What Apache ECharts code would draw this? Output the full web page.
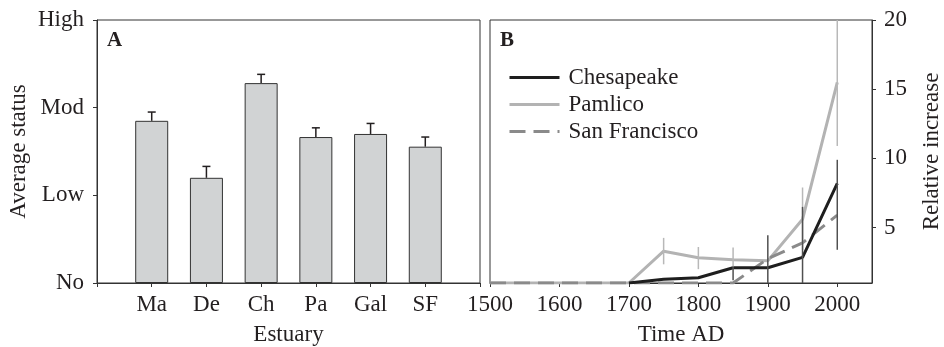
<!DOCTYPE html>
<html>
<head>
<meta charset="utf-8">
<script src="https://cdn.jsdelivr.net/npm/echarts@6/dist/echarts.min.js"></script>
<style>
  html, body { margin: 0; padding: 0; background: #fff; }
  #chart { width: 944px; height: 347px; }
</style>
</head>
<body>
<div id="chart"></div>
<script>
// panel A: average status per estuary
const estuaries = ['Ma', 'De', 'Ch', 'Pa', 'Gal', 'SF']
const statusMean = [1.85, 1.2, 2.28, 1.665, 1.7, 1.555]
const statusErrTop = [1.95, 1.33, 2.38, 1.77, 1.82, 1.665]
const statusLabels = ['No', 'Low', 'Mod', 'High']

// panel B: relative increase over time
const years = [1500, 1600, 1700, 1750, 1800, 1850, 1900, 1950, 2000]
const chesapeake = [null, null, 1, 1.27, 1.38, 2.1, 2.1, 2.85, 8.2]
const pamlico = [1, 1, 1, 3.3, 2.82, 2.68, 2.6, 5.6, 15.5]
const sanFrancisco = [1, 1, 1, 1, 1, 1, 2.75, 3.9, 5.9]
const yearTicks = [1500, 1600, 1700, 1800, 1900, 2000]
const increaseTicks = [5, 10, 15, 20]

// vertical error ranges in panel B
const lightErrYears = [1750, 1800, 1850, 1950, 2000]
const lightErrLow = [2.35, 2.0, 2.17, 3.4, 10.9]
const lightErrHigh = [4.26, 3.6, 3.57, 7.9, 20]
const darkErrYears = [1850, 1900, 1950, 2000]
const darkErrLow = [1.2, 1, 1, 3.4]
const darkErrHigh = [2.2, 4.45, 6.5, 9.9]

const FONT = 'Liberation Serif'
const INK = '#231f20'
const AXIS = '#333'

const chart = echarts.init(document.getElementById('chart'))

const xCats = [''].concat(estuaries, [' '])
const barData = [null].concat(statusMean, [null])
const errA = estuaries.map((e, i) => [i + 1, statusMean[i], statusErrTop[i]])

function errorBarA (params, api) {
  const base = api.coord([api.value(0), api.value(1)])
  const top = api.coord([api.value(0), api.value(2)])
  const style = { stroke: INK, lineWidth: 1.5 }
  return {
    type: 'group',
    children: [
      { type: 'line', shape: { x1: base[0], y1: base[1], x2: top[0], y2: top[1] }, style: style },
      { type: 'line', shape: { x1: top[0] - 4, y1: top[1], x2: top[0] + 4, y2: top[1] }, style: style }
    ]
  }
}

function rangeBar (color) {
  return function (params, api) {
    const lo = api.coord([api.value(0), api.value(1)])
    const hi = api.coord([api.value(0), api.value(2)])
    return {
      type: 'line',
      shape: { x1: lo[0], y1: lo[1], x2: hi[0], y2: hi[1] },
      style: { stroke: color, lineWidth: 1.5 }
    }
  }
}

const axisText = { fontFamily: FONT, fontSize: 23, color: INK }
const nameText = { fontFamily: FONT, fontSize: 23, color: INK }

const option = {
  animation: false,
  textStyle: { fontFamily: FONT },
  grid: [
    { left: 97, top: 20, width: 383, height: 263, show: true, borderColor: AXIS, borderWidth: 1, outerBoundsMode: 'none' },
    { left: 490, top: 20, width: 382, height: 263, show: true, borderColor: AXIS, borderWidth: 1, outerBoundsMode: 'none' }
  ],
  xAxis: [
    {
      gridIndex: 0,
      type: 'category',
      data: xCats,
      boundaryGap: false,
      name: 'Estuary',
      nameLocation: 'middle',
      nameGap: 40,
      nameTextStyle: nameText,
      axisLine: { lineStyle: { color: AXIS } },
      axisTick: { length: 4, lineStyle: { color: AXIS } },
      axisLabel: Object.assign({ interval: 0, margin: 10 }, axisText),
      splitLine: { show: false }
    },
    {
      gridIndex: 1,
      type: 'value',
      min: 1500,
      max: 2050,
      interval: 100,
      name: 'Time AD',
      nameLocation: 'middle',
      nameGap: 40,
      nameTextStyle: nameText,
      axisLine: { lineStyle: { color: AXIS } },
      axisTick: { length: 4, lineStyle: { color: AXIS }, customValues: yearTicks },
      axisLabel: Object.assign({ margin: 10, customValues: yearTicks, formatter: v => String(v) }, axisText),
      splitLine: { show: false }
    }
  ],
  yAxis: [
    {
      gridIndex: 0,
      type: 'value',
      min: 0,
      max: 3,
      interval: 1,
      name: 'Average status',
      nameLocation: 'middle',
      nameRotate: 90,
      nameGap: 67,
      nameTextStyle: nameText,
      axisLine: { show: true, lineStyle: { color: AXIS } },
      axisTick: { show: true, length: 4, lineStyle: { color: AXIS } },
      axisLabel: Object.assign({ margin: 13, formatter: v => statusLabels[v] }, axisText),
      splitLine: { show: false }
    },
    {
      gridIndex: 1,
      type: 'value',
      position: 'right',
      min: 1,
      max: 20,
      name: 'Relative increase',
      nameLocation: 'middle',
      nameRotate: 90,
      nameGap: 48,
      nameTextStyle: nameText,
      axisLine: { show: true, lineStyle: { color: AXIS } },
      axisTick: { show: true, length: 4, lineStyle: { color: AXIS }, customValues: increaseTicks },
      axisLabel: Object.assign({ margin: 12, customValues: increaseTicks }, axisText),
      splitLine: { show: false }
    }
  ],
  legend: {
    data: ['Chesapeake', 'Pamlico', 'San Francisco'],
    orient: 'vertical',
    left: 508,
    top: 66,
    padding: 0,
    itemWidth: 50,
    itemHeight: 14,
    itemGap: 4,
    itemStyle: { opacity: 0 },
    lineStyle: { width: 3 },
    textStyle: { fontFamily: FONT, fontSize: 23, color: INK, padding: [0, 0, 0, 4] }
  },
  graphic: [
    { type: 'text', left: 107, top: 30, style: { text: 'A', font: 'bold 21px "Liberation Serif"', fill: INK } },
    { type: 'text', left: 500, top: 30, style: { text: 'B', font: 'bold 21px "Liberation Serif"', fill: INK } }
  ],
  series: [
    {
      type: 'bar',
      xAxisIndex: 0,
      yAxisIndex: 0,
      data: barData,
      barWidth: 33,
      itemStyle: { color: '#d1d3d4', borderColor: AXIS, borderWidth: 1 }
    },
    {
      type: 'custom',
      xAxisIndex: 0,
      yAxisIndex: 0,
      data: errA,
      renderItem: errorBarA,
      z: 3
    },
    {
      name: 'Pamlico',
      type: 'line',
      xAxisIndex: 1,
      yAxisIndex: 1,
      data: years.map((y, i) => [y, pamlico[i]]),
      symbol: 'none',
      lineStyle: { color: '#b3b3b3', width: 3 },
      itemStyle: { color: '#b3b3b3' }
    },
    {
      name: 'San Francisco',
      type: 'line',
      xAxisIndex: 1,
      yAxisIndex: 1,
      data: years.map((y, i) => [y, sanFrancisco[i]]),
      symbol: 'none',
      lineStyle: { color: '#8a8a8a', width: 3, type: [16, 8] },
      itemStyle: { color: '#8a8a8a' }
    },
    {
      name: 'Chesapeake',
      type: 'line',
      xAxisIndex: 1,
      yAxisIndex: 1,
      data: years.map((y, i) => [y, chesapeake[i]]),
      symbol: 'none',
      connectNulls: false,
      lineStyle: { color: '#1e1e1e', width: 3 },
      itemStyle: { color: '#1e1e1e' }
    },
    {
      type: 'custom',
      xAxisIndex: 1,
      yAxisIndex: 1,
      data: lightErrYears.map((y, i) => [y, lightErrLow[i], lightErrHigh[i]]),
      renderItem: rangeBar('#b8b8b8'),
      z: 4
    },
    {
      type: 'custom',
      xAxisIndex: 1,
      yAxisIndex: 1,
      data: darkErrYears.map((y, i) => [y, darkErrLow[i], darkErrHigh[i]]),
      renderItem: rangeBar('#505050'),
      z: 5
    }
  ]
}

chart.setOption(option)
</script>
</body>
</html>
